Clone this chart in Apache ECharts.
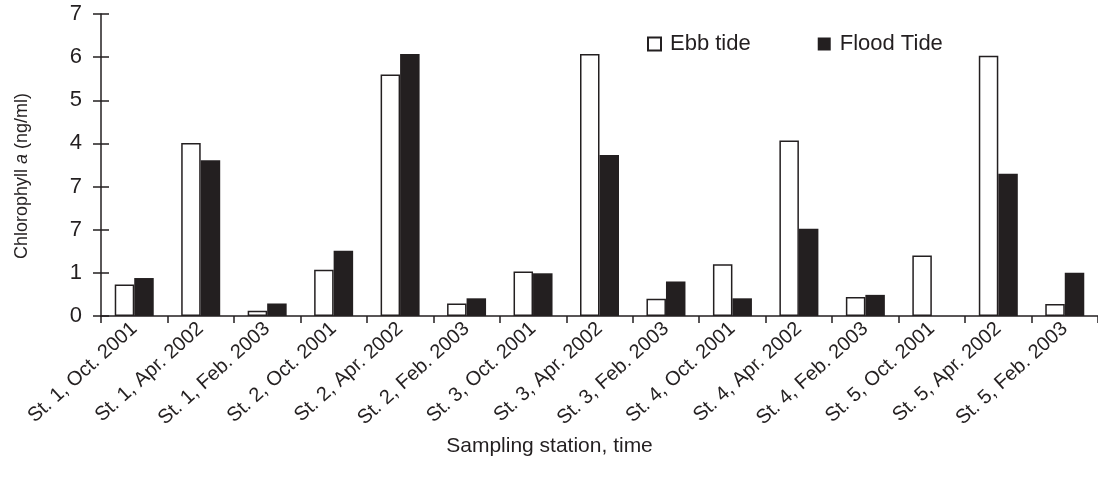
<!DOCTYPE html>
<html>
<head>
<meta charset="utf-8">
<script src="https://cdn.jsdelivr.net/npm/echarts@6/dist/echarts.min.js"></script>
<style>
  html, body { margin: 0; padding: 0; background: #fff; }
  #chart { width: 1098px; height: 479px; }
</style>
</head>
<body>
<div id="chart"></div>
<script>
// categories along the x axis
const stations = [
  'St. 1, Oct. 2001', 'St. 1, Apr. 2002', 'St. 1, Feb. 2003',
  'St. 2, Oct. 2001', 'St. 2, Apr. 2002', 'St. 2, Feb. 2003',
  'St. 3, Oct. 2001', 'St. 3, Apr. 2002', 'St. 3, Feb. 2003',
  'St. 4, Oct. 2001', 'St. 4, Apr. 2002', 'St. 4, Feb. 2003',
  'St. 5, Oct. 2001', 'St. 5, Apr. 2002', 'St. 5, Feb. 2003'
]
// chlorophyll a (ng/ml)
const ebbTide = [0.73, 4.01, 0.12, 1.07, 5.6, 0.29, 1.03, 6.07, 0.40, 1.20, 4.07, 0.44, 1.40, 6.03, 0.28]
const floodTide = [0.88, 3.61, 0.29, 1.51, 6.07, 0.41, 0.99, 3.73, 0.80, 0.41, 2.02, 0.49, 0, 3.30, 1.00]
// y tick labels exactly as printed in the figure
const yTickLabels = ['0', '1', '7', '7', '4', '5', '6', '7']

const ink = '#231f20'
const font = '"Liberation Sans", Arial, sans-serif'

const chart = echarts.init(document.getElementById('chart'))

const option = {
  animation: false,
  textStyle: { fontFamily: font, color: ink },
  legend: {
    left: 642,
    top: 28,
    itemWidth: 13,
    itemHeight: 13,
    itemGap: 67,
    icon: 'rect',
    textStyle: { fontSize: 22, color: ink, fontFamily: font, padding: [0, 0, 0, 4] },
    data: ['Ebb tide', 'Flood Tide']
  },
  grid: {
    left: 101,
    top: 14,
    width: 1002,
    height: 302
  },
  xAxis: {
    type: 'category',
    data: stations,
    name: 'Sampling station, time',
    nameLocation: 'middle',
    nameGap: 100,
    nameTextStyle: { fontSize: 21, color: ink, fontFamily: font, padding: [0, 100, 0, 0] },
    axisLine: { lineStyle: { color: ink, width: 1.5 } },
    axisTick: { show: true, length: 7, alignWithLabel: false, lineStyle: { color: ink, width: 1.5 } },
    axisLabel: {
      rotate: 42,
      interval: 0,
      margin: 10,
      fontSize: 20,
      color: ink,
      fontFamily: font
    }
  },
  yAxis: [
    {
      type: 'value',
      min: 0,
      max: 7,
      interval: 1,
      name: '{n|Chlorophyll }{i|a}{n| (ng/ml)}',
      nameLocation: 'middle',
      nameGap: 70,
      nameTextStyle: {
        padding: [0, 22, 0, 0],
        rich: {
          n: { fontSize: 18, color: ink, fontFamily: font },
          i: { fontSize: 18, color: ink, fontFamily: font, fontStyle: 'italic' }
        }
      },
      axisLine: { show: true, lineStyle: { color: ink, width: 1.5 } },
      axisTick: { show: true, length: 8, lineStyle: { color: ink, width: 1.5 } },
      splitLine: { show: false },
      axisLabel: {
        margin: 19,
        fontSize: 22,
        color: ink,
        fontFamily: font,
        formatter: (v) => yTickLabels[Math.round(v)]
      }
    },
    {
      // same scale, ticks drawn inward so they cross the axis line
      type: 'value',
      position: 'left',
      min: 0,
      max: 7,
      interval: 1,
      axisLine: { show: false },
      axisTick: { show: true, inside: true, length: 8, lineStyle: { color: ink, width: 1.5 } },
      axisLabel: { show: false },
      splitLine: { show: false }
    }
  ],
  series: [
    {
      name: 'Ebb tide',
      type: 'bar',
      data: ebbTide,
      barWidth: 19.5,
      barGap: '0%',
      itemStyle: { color: '#fff', borderColor: ink, borderWidth: 1.5 }
    },
    {
      name: 'Flood Tide',
      type: 'bar',
      data: floodTide,
      barWidth: 19.5,
      barGap: '0%',
      itemStyle: { color: ink, borderColor: ink, borderWidth: 0 }
    }
  ]
}

chart.setOption(option)
</script>
</body>
</html>
